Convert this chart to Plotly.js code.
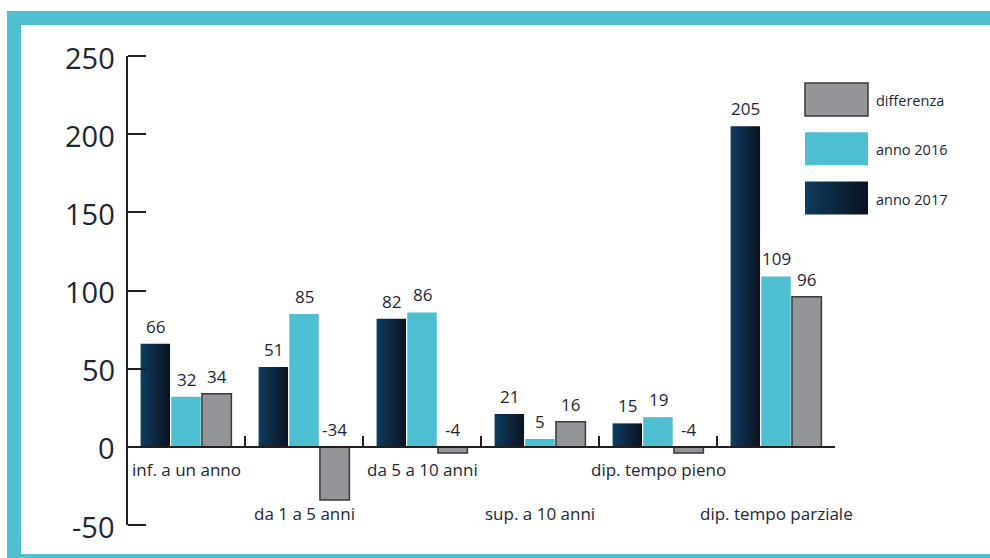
<!DOCTYPE html>
<html>
<head>
<meta charset="utf-8">
<script src="https://cdn.plot.ly/plotly-3.0.1.min.js"></script>
<style>
  html, body { margin: 0; padding: 0; background: #ffffff; overflow: hidden; }
  #frame { position: absolute; left: 7px; top: 11px; width: 1000px; height: 529px;
           border: 14px solid #4fbfd0; background: #ffffff; z-index: 0; }
  #chart { position: absolute; left: 0; top: 0; width: 990px; height: 558px; z-index: 1; }
</style>
</head>
<body>
<div id="frame"></div>
<div id="chart"></div>
<script>
// ---- data ----
const categories = ['inf. a un anno', 'da 1 a 5 anni', 'da 5 a 10 anni', 'sup. a 10 anni', 'dip. tempo pieno', 'dip. tempo parziale'];
const anno2017 = [66, 51, 82, 21, 15, 205];
const anno2016 = [32, 85, 86, 5, 19, 109];
const differenza = [34, -34, -4, 16, -4, 96];
const seriesNames = ['anno 2017', 'anno 2016', 'differenza'];
const yTickVals = [-50, 0, 50, 100, 150, 200, 250];
const yRange = [-50, 250];

// ---- style ----
const W = 990, H = 558;
const M = { l: 127, r: 155, t: 56, b: 33 };
const FONT = 'Open Sans, Noto Sans, sans-serif';
const TXT = '#1d2636';
const AXC = '#231f20';
const C2016 = '#4dbfd0';
const CDIFF = '#939598';
const CDIFF_LINE = '#3a3a3a';
const C2017 = '#0d2a44';
const BARGAP = 0.22;

const seriesValues = [anno2017, anno2016, differenza];
const seriesColors = [C2017, C2016, CDIFF];

const traces = seriesValues.map((vals, j) => ({
  type: 'bar',
  name: seriesNames[j],
  x: categories,
  y: vals,
  marker: {
    color: seriesColors[j],
    line: { color: j === 2 ? CDIFF_LINE : 'rgba(0,0,0,0)', width: j === 2 ? 1.5 : 0 }
  },
  hoverinfo: 'x+y+name',
  showlegend: false
}));

const annotations = [];
// value labels
const slot = (1 - BARGAP) / seriesValues.length;
seriesValues.forEach((vals, j) => {
  vals.forEach((v, i) => {
    annotations.push({
      xref: 'x', yref: 'y',
      x: i + (j - (seriesValues.length - 1) / 2) * slot,
      y: Math.max(v, 0),
      text: String(v),
      showarrow: false,
      xanchor: 'center', yanchor: 'bottom',
      yshift: 4,
      font: { family: FONT, size: 17, color: TXT }
    });
  });
});
// staggered category labels
categories.forEach((c, i) => {
  annotations.push({
    xref: 'x', yref: 'y',
    x: i, y: 0,
    text: c,
    showarrow: false,
    xanchor: 'center', yanchor: 'top',
    yshift: i % 2 === 0 ? -9 : -53,
    font: { family: FONT, size: 17, color: TXT }
  });
});
// y tick labels (left of the axis line)
yTickVals.forEach(v => {
  annotations.push({
    xref: 'paper', yref: 'y',
    x: 0, y: v,
    text: String(v),
    showarrow: false,
    xanchor: 'right', yanchor: 'middle',
    xshift: -10, yshift: -1,
    font: { family: FONT, size: 29, color: TXT }
  });
});

// custom legend (large swatches), top to bottom: differenza, anno 2016, anno 2017
const plotW = W - M.l - M.r, plotH = H - M.t - M.b;
const px2x = p => (p - M.l) / plotW;
const px2y = p => 1 - (p - M.t) / plotH;
const legendOrder = [2, 1, 0];
const legTop = 83, legStep = 49.3, swW = 63, swH = 33, swX = 805;
const shapes = [];
legendOrder.forEach((j, k) => {
  const top = legTop + k * legStep;
  shapes.push({
    type: 'rect', xref: 'paper', yref: 'paper',
    x0: px2x(swX), x1: px2x(swX + swW),
    y0: px2y(top + swH), y1: px2y(top),
    fillcolor: seriesColors[j],
    line: { color: j === 2 ? CDIFF_LINE : 'rgba(0,0,0,0)', width: j === 2 ? 1.5 : 0 }
  });
  annotations.push({
    xref: 'paper', yref: 'paper',
    x: px2x(swX + swW + 6), y: px2y(top + swH / 2 + 1),
    text: seriesNames[j],
    showarrow: false, xanchor: 'left', yanchor: 'middle',
    font: { family: FONT, size: 14.5, color: TXT }
  });
});

const layout = {
  width: W, height: H,
  margin: M,
  paper_bgcolor: 'rgba(0,0,0,0)',
  plot_bgcolor: 'rgba(0,0,0,0)',
  barmode: 'group',
  bargap: BARGAP,
  bargroupgap: 0.04,
  showlegend: false,
  font: { family: FONT, color: TXT },
  xaxis: {
    type: 'category',
    categoryorder: 'array', categoryarray: categories,
    range: [-0.5, categories.length - 0.5],
    anchor: 'free',
    position: (0 - yRange[0]) / (yRange[1] - yRange[0]),
    showline: true, linecolor: AXC, linewidth: 2,
    ticks: 'inside', tickson: 'boundaries', ticklen: 10, tickwidth: 2, tickcolor: AXC,
    showticklabels: false,
    showgrid: false, zeroline: false, fixedrange: true
  },
  yaxis: {
    range: yRange,
    anchor: 'free', position: 0, side: 'right',
    tickmode: 'array', tickvals: yTickVals,
    showline: true, linecolor: AXC, linewidth: 2,
    ticks: 'outside', ticklen: 18, tickwidth: 2, tickcolor: AXC,
    showticklabels: false,
    showgrid: false, zeroline: false, fixedrange: true
  },
  shapes: shapes,
  annotations: annotations
};

Plotly.newPlot('chart', traces, layout, { displayModeBar: false, staticPlot: true }).then(gd => {
  // horizontal gradient fill for the "anno 2017" series
  const svgNS = 'http://www.w3.org/2000/svg';
  const svg = gd.querySelector('svg.main-svg');
  let defs = svg.querySelector('defs');
  if (!defs) { defs = document.createElementNS(svgNS, 'defs'); svg.insertBefore(defs, svg.firstChild); }
  const grad = document.createElementNS(svgNS, 'linearGradient');
  grad.setAttribute('id', 'grad2017');
  grad.setAttribute('x1', '0'); grad.setAttribute('y1', '0');
  grad.setAttribute('x2', '1'); grad.setAttribute('y2', '0');
  [['0', '#0e3c60'], ['1', '#0a1220']].forEach(([o, c]) => {
    const s = document.createElementNS(svgNS, 'stop');
    s.setAttribute('offset', o); s.setAttribute('stop-color', c);
    grad.appendChild(s);
  });
  defs.appendChild(grad);
  const barTraces = gd.querySelectorAll('.barlayer .trace');
  if (barTraces[0]) barTraces[0].querySelectorAll('path').forEach(p => { p.style.fill = 'url(#grad2017)'; });
  const legShape = gd.querySelector('.shapelayer path[data-index="2"]');
  if (legShape) legShape.style.fill = 'url(#grad2017)';
});
</script>
</body>
</html>
